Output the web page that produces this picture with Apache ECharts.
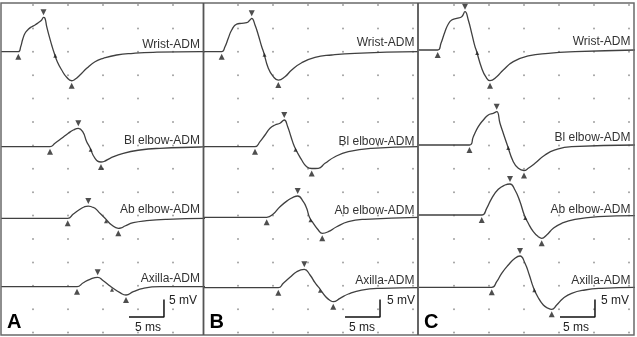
<!DOCTYPE html>
<html><head><meta charset="utf-8">
<script src="https://cdn.jsdelivr.net/npm/echarts@6/dist/echarts.min.js"></script>
<style>html,body{margin:0;padding:0;background:#fff}#c{width:637px;height:337px}</style>
</head><body><div id="c"></div>
<script>
// ---------- DATA ----------
const panelNames = ['A', 'B', 'C'];
const traceNames = ['Wrist-ADM', 'Bl elbow-ADM', 'Ab elbow-ADM', 'Axilla-ADM'];
const scaleTime = 5;   // ms
const scaleAmp = 5;    // mV
const gridTimes = [5, 10, 15, 20, 25, 30]; // ms, dotted grid columns

// display baseline of each trace (mV on the stacked display axis)
const baselineA = [80.94, 53.80, 33.34, 13.80];
const baselineB = [80.94, 53.80, 33.63, 13.51];
const baselineC = [81.43, 54.29, 34.29, 13.63];

// traces: [time ms, amplitude mV relative to baseline]
const A_wrist = [[0.43,0],[2.9,0],[3.24,1.43],[3.53,3.54],[3.86,5.26],[4.33,6.4],[4.81,7.14],[5.29,7.63],[5.76,8.29],[6.24,9.06],[6.5,9.83],[6.71,9.54],[6.96,7.14],[7.33,4.29],[7.67,1.91],[8.04,-0.46],[8.47,-2.86],[9.1,-5.23],[9.81,-7.31],[10.53,-8.29],[11.0,-7.89],[11.71,-6.66],[12.67,-4.74],[13.86,-2.86],[15.04,-1.89],[16.96,-0.94],[19.33,-0.46],[22.19,-0.17],[28.86,0],[29.6,0]];
const A_blelbow = [[0.43,0],[7.43,0],[8.14,0.97],[9.1,2.4],[10.04,3.83],[10.76,4.77],[11.47,5.26],[12.1,4.29],[12.67,1.43],[13.07,0],[13.86,-3.31],[14.71,-4.37],[15.14,-4.23],[16.0,-3.31],[17.9,-1.89],[20.29,-0.94],[23.14,-0.46],[28.86,-0.09],[29.6,0]];
const A_abelbow = [[0.43,0],[9.96,0],[10.76,1.23],[11.71,2.57],[12.29,3.23],[12.9,3.51],[13.43,3.23],[13.86,2.86],[14.57,1.43],[15.29,0],[16.24,-1.91],[17.19,-2.86],[17.71,-2.63],[18.14,-2.2],[19.33,-1.26],[21.24,-0.69],[24.1,-0.29],[29.6,0]];
const A_axilla = [[0.43,0],[11.29,0],[12.19,1.14],[13.14,2.11],[14.24,2.69],[15.04,1.71],[16.0,0.2],[16.14,0],[17.43,-1.71],[18.29,-2.37],[19.33,-1.43],[20.76,-0.46],[23.14,0],[29.6,0]];

const B_wrist = [[0.14,0],[2.67,0],[3.14,1.43],[3.61,3.83],[4.1,6.2],[4.81,7.91],[5.53,8.11],[6.24,8.29],[6.71,9.06],[6.96,9.54],[7.43,7.63],[7.9,4.77],[8.39,1.43],[8.64,0],[9.33,-4.74],[10.04,-7.14],[10.76,-8.09],[11.71,-7.14],[12.67,-5.23],[14.1,-3.14],[16.0,-1.6],[18.39,-0.94],[21.71,-0.46],[30.71,0]];
const B_blelbow = [[0.14,0],[7.43,0],[8.14,1.43],[8.86,3.34],[9.57,5.26],[10.29,6.2],[11.0,6.69],[11.61,7.63],[12.1,5.71],[12.57,2.86],[13.07,0],[14.1,-3.8],[14.81,-5.71],[15.53,-6.23],[16.47,-6.17],[17.43,-4.74],[18.86,-2.86],[20.76,-1.43],[24.1,-0.46],[30.71,0]];
const B_abelbow = [[0.14,0],[9.1,0],[10.04,0.94],[11.0,3.03],[12.19,4.94],[12.86,5.71],[13.53,6.09],[14.33,4.46],[14.81,2.57],[15.21,0],[15.76,-1.71],[16.47,-3.63],[17.04,-4.57],[17.9,-4.11],[19.1,-2.69],[20.76,-1.26],[23.14,-0.57],[30.71,0]];
const B_axilla = [[0.14,0],[10.76,0],[11.47,1.26],[12.43,2.97],[13.39,4.57],[14.47,5.26],[15.29,3.63],[16.0,1.43],[16.57,0],[17.53,-2.57],[18.29,-3.8],[18.61,-4.0],[19.57,-3.03],[20.76,-1.8],[22.67,-0.66],[25.53,-0.17],[30.71,0]];

const C_wrist = [[0,0],[2.67,0],[3.14,1.91],[3.71,5.23],[4.19,7.43],[4.67,8.57],[5.39,9.06],[6.1,9.51],[6.57,10.94],[7.04,8.57],[7.53,4.77],[8.0,0.94],[8.17,0],[8.96,-5.23],[9.53,-7.63],[10.14,-8.77],[11.1,-7.63],[12.04,-5.71],[13.47,-3.34],[15.61,-1.71],[18.47,-0.94],[22.29,-0.49],[30.86,0]];
const C_blelbow = [[0,0],[7.21,0],[7.76,2.37],[8.47,5.23],[9.19,7.14],[9.9,8.57],[10.61,9.06],[11.1,9.51],[11.57,6.2],[12.04,3.34],[12.61,0],[13.47,-4.77],[14.19,-6.66],[15.0,-7.29],[15.61,-6.66],[16.57,-5.23],[18.0,-2.86],[19.43,-1.43],[21.81,-0.49],[30.86,0]];
const C_abelbow = [[0,0],[8.96,0],[9.67,1.91],[10.39,4.77],[11.33,7.34],[12.29,8.57],[13.0,8.86],[13.71,7.14],[14.43,3.8],[15.04,0],[15.61,-2.37],[16.33,-4.77],[17.04,-6.2],[17.53,-6.66],[18.24,-5.71],[19.19,-3.8],[20.39,-2.37],[22.29,-1.23],[25.61,-0.49],[30.86,-0.2]];
const C_axilla = [[0,0],[10.39,0],[11.1,1.6],[11.81,4.0],[12.76,6.37],[13.71,8.29],[14.43,8.94],[15.14,6.86],[15.76,3.51],[16.33,0],[16.96,-2.69],[17.76,-5.06],[18.47,-6.0],[18.96,-6.29],[19.67,-5.06],[20.61,-3.14],[21.81,-1.71],[23.71,-0.77],[26.1,-0.29],[30.86,0]];

// cursor marks: onset [t,v], peak [t,v], crossing [t,v], trough [t,v]
const A_marks = [
  [[2.9,0],[6.5,9.83],[8.04,-0.3],[10.53,-8.29]],
  [[7.43,0],[11.47,5.26],[13.1,0],[14.71,-4.37]],
  [[9.96,0],[12.9,3.51],[15.29,0],[17.19,-2.86]],
  [[11.29,0],[14.24,2.69],[16.14,0],[18.29,-2.37]]];
const B_marks = [
  [[2.67,0],[6.96,9.54],[8.64,0],[10.76,-8.09]],
  [[7.43,0],[11.61,7.63],[13.07,0],[15.53,-6.23]],
  [[9.1,0],[13.53,6.09],[15.21,0],[17.04,-4.57]],
  [[10.76,0],[14.47,5.26],[16.57,0],[18.61,-4.0]]];
const C_marks = [
  [[2.67,0],[6.57,10.94],[8.17,0],[10.14,-8.77]],
  [[7.21,0],[11.1,9.51],[12.61,0],[15.0,-7.29]],
  [[8.96,0],[13.0,8.86],[15.04,0],[17.53,-6.66]],
  [[10.39,0],[14.43,8.94],[16.33,0],[18.96,-6.29]]];

// ---------- LAYOUT ----------
const PX_MS = 7, PX_MV = 3.5;
const TOP = 3, HEIGHT = 332;
const panelLeft = [1, 203.5, 418];
const panelRight = [203.5, 418, 634];
const panelT0 = [-2, 203, 419];           // pixel x of t = 0
const scaleBarAt = [[18.71, 5.14], [20.29, 5.14], [20.14, 5.14]];
const labelY = [[46, 142, 211, 280], [44, 143, 212, 282], [43, 139, 211, 282]];
const baselines = [baselineA, baselineB, baselineC];
const traces = [[A_wrist, A_blelbow, A_abelbow, A_axilla],[B_wrist, B_blelbow, B_abelbow, B_axilla],[C_wrist, C_blelbow, C_abelbow, C_axilla]];
const marks = [A_marks, B_marks, C_marks];

const yMax = HEIGHT / PX_MV;
const dotLevels = [];
for (let k = 0; k < 15; k++) dotLevels.push((TOP + HEIGHT - (5 + 23.4 * k)) / PX_MV);

const grids = [], xAxes = [], yAxes = [], series = [], graphics = [];
const LINE = '#404040', INK = '#222';
const FONT = '12px "Liberation Sans", Arial, sans-serif';

panelNames.forEach((p, i) => {
  const L = panelLeft[i], R = panelRight[i];
  grids.push({left: L, top: TOP, width: R - L, height: HEIGHT});
  const xmin = (L - panelT0[i]) / PX_MS, xmax = (R - panelT0[i]) / PX_MS;
  xAxes.push({type: 'value', gridIndex: i, min: xmin, max: xmax, show: false});
  yAxes.push({type: 'value', gridIndex: i, min: 0, max: yMax, show: false});

  const dots = [];
  gridTimes.forEach(t => { if (t > xmin + 0.3 && t < xmax - 0.2) dotLevels.forEach(v => dots.push([t, v])); });
  series.push({type: 'scatter', xAxisIndex: i, yAxisIndex: i, data: dots, symbolSize: 2,
    itemStyle: {color: '#8a8a8a'}, silent: true, z: 1});

  traces[i].forEach((tr, j) => {
    const off = baselines[i][j];
    series.push({type: 'line', xAxisIndex: i, yAxisIndex: i, name: p + traceNames[j],
      data: tr.map(d => [d[0], d[1] + off]), showSymbol: false, smooth: 0.5,
      lineStyle: {color: LINE, width: 1.3}, silent: true, z: 3});
    const m = marks[i][j];
    const md = [
      {value: [m[0][0], m[0][1] + off], symbol: 'triangle', symbolSize: [6, 6], symbolOffset: [0, 5]},
      {value: [m[1][0], m[1][1] + off], symbol: 'triangle', symbolRotate: 180, symbolSize: [6, 6], symbolOffset: [0, -5]},
      {value: [m[2][0], m[2][1] + off], symbol: 'triangle', symbolSize: [4, 4], symbolOffset: [1, 3]},
      {value: [m[3][0], m[3][1] + off], symbol: 'triangle', symbolSize: [6, 6], symbolOffset: [0, 5]}];
    series.push({type: 'scatter', xAxisIndex: i, yAxisIndex: i, data: md,
      itemStyle: {color: INK}, silent: true, z: 4});
    graphics.push({type: 'text', right: 637 - (R - 3.5), top: labelY[i][j] - 7,
      style: {text: traceNames[j], fill: '#333', font: FONT}, z: 10});
  });

  const sb = scaleBarAt[i];
  series.push({type: 'line', xAxisIndex: i, yAxisIndex: i,
    data: [[sb[0], sb[1]], [sb[0] + scaleTime, sb[1]], [sb[0] + scaleTime, sb[1] + scaleAmp]],
    showSymbol: false, lineStyle: {color: '#111', width: 1.5}, silent: true, z: 5});

  graphics.push({type: 'text', left: L + 6, top: 312,
    style: {text: p, fill: '#000', font: 'bold 20px "Liberation Sans", Arial, sans-serif'}, z: 10});
});

const mvX = [169, 387, 601], msX = [135, 349, 563];
for (let i = 0; i < 3; i++) {
  graphics.push({type: 'text', left: mvX[i], top: 295, style: {text: scaleAmp + ' mV', fill: '#222', font: FONT}, z: 10});
  graphics.push({type: 'text', left: msX[i], top: 322, style: {text: scaleTime + ' ms', fill: '#222', font: FONT}, z: 10});
}
graphics.push({type: 'rect', shape: {x: 1, y: 3, width: 633, height: 332}, style: {fill: null, stroke: '#6a6a6a', lineWidth: 1.5}, z: 20, silent: true});
graphics.push({type: 'line', shape: {x1: 203.5, y1: 3, x2: 203.5, y2: 335}, style: {stroke: '#555', lineWidth: 1.8}, z: 20});
graphics.push({type: 'line', shape: {x1: 418, y1: 3, x2: 418, y2: 335}, style: {stroke: '#555', lineWidth: 1.8}, z: 20});

const chart = echarts.init(document.getElementById('c'), null, {renderer: 'canvas'});
chart.setOption({animation: false, backgroundColor: '#fff', grid: grids, xAxis: xAxes, yAxis: yAxes, series: series, graphic: graphics});
</script></body></html>
